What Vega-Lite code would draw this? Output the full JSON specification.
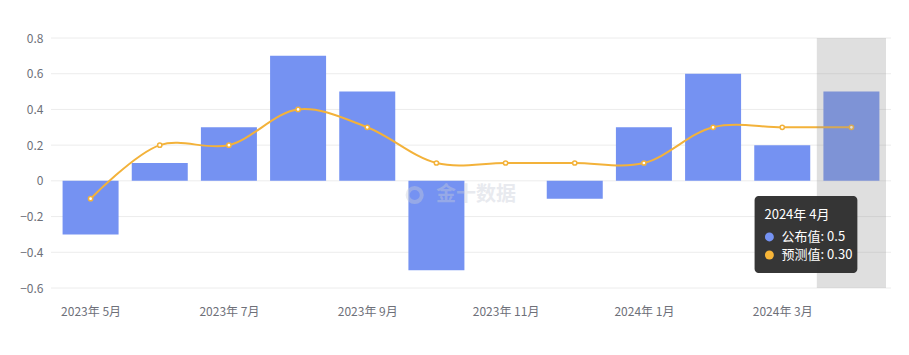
{
  "$schema": "https://vega.github.io/schema/vega-lite/v6.json",
  "width": 840,
  "height": 250,
  "autosize": "none",
  "padding": {"left": 51, "top": 38, "right": 18, "bottom": 67},
  "background": "white",
  "config": {
    "view": {"stroke": null},
    "font": "Noto Sans CJK SC",
    "axis": {"labelFont": "Noto Sans CJK SC", "labelFontSize": 12, "labelColor": "#6e7079", "title": null, "domain": false, "ticks": false, "labelOverlap": false}
  },
  "datasets": {
    "main": [
      {"idx": 1, "month": "2023年 5月", "actual": -0.3, "forecast": -0.1},
      {"idx": 2, "month": "2023年 6月", "actual": 0.1, "forecast": 0.2},
      {"idx": 3, "month": "2023年 7月", "actual": 0.3, "forecast": 0.2},
      {"idx": 4, "month": "2023年 8月", "actual": 0.7, "forecast": 0.4},
      {"idx": 5, "month": "2023年 9月", "actual": 0.5, "forecast": 0.3},
      {"idx": 6, "month": "2023年 10月", "actual": -0.5, "forecast": 0.1},
      {"idx": 7, "month": "2023年 11月", "actual": 0, "forecast": 0.1},
      {"idx": 8, "month": "2023年 12月", "actual": -0.1, "forecast": 0.1},
      {"idx": 9, "month": "2024年 1月", "actual": 0.3, "forecast": 0.1},
      {"idx": 10, "month": "2024年 2月", "actual": 0.6, "forecast": 0.3},
      {"idx": 11, "month": "2024年 3月", "actual": 0.2, "forecast": 0.3},
      {"idx": 12, "month": "2024年 4月", "actual": 0.5, "forecast": 0.3}
    ],
    "highlight": [{"x1": 11.5, "x2": 12.5, "y1": 0.8, "y2": -0.6}],
    "tipbox": [{"x1": 10.6, "x2": 12.086, "y1": -0.085, "y2": -0.516}],
    "tiptext": [
      {"x": 10.743, "y": -0.191, "text": "2024年 4月"},
      {"x": 10.99, "y": -0.314, "text": "公布值: 0.5"},
      {"x": 10.99, "y": -0.415, "text": "预测值: 0.30"}
    ],
    "tipdots": [
      {"x": 10.814, "y": -0.314, "series": "公布值"},
      {"x": 10.814, "y": -0.415, "series": "预测值"}
    ],
    "watermark": [{"x": 6.571, "y": -0.079, "text": "金十数据"}],
    "wmicon": [{"x": 5.686, "y": -0.079}],
    "grid": [{"v": -0.6}, {"v": -0.4}, {"v": -0.2}, {"v": 0}, {"v": 0.2}, {"v": 0.4}, {"v": 0.6}, {"v": 0.8}]
  },
  "layer": [
    {
      "data": {"name": "grid"},
      "mark": {"type": "rule", "color": "#ececec", "strokeWidth": 1},
      "encoding": {
        "y": {"field": "v", "type": "quantitative", "scale": {"domain": [-0.6, 0.8], "nice": false, "zero": false},
          "axis": {"values": [-0.6, -0.4, -0.2, 0, 0.2, 0.4, 0.6, 0.8], "tickCount": 20, "grid": false, "labelPadding": 8, "labelOverlap": false,
            "labelExpr": "datum.value == 0 ? '0' : format(datum.value, '.1f')"}}
      }
    },
    {
      "data": {"name": "main"},
      "mark": {"type": "rule", "opacity": 0},
      "encoding": {
        "x": {"field": "idx", "type": "quantitative", "scale": {"domain": [0.5, 12.5], "nice": false, "zero": false},
          "axis": {"values": [1, 3, 5, 7, 9, 11], "tickCount": 20, "grid": false, "labelPadding": 18, "labelOverlap": false,
            "labelExpr": "['2023年 5月','2023年 6月','2023年 7月','2023年 8月','2023年 9月','2023年 10月','2023年 11月','2023年 12月','2024年 1月','2024年 2月','2024年 3月','2024年 4月'][datum.value-1]"}},
        "y": {"field": "actual", "type": "quantitative"}
      }
    },
    {
      "data": {"name": "main"},
      "mark": {"type": "bar", "orient": "vertical", "width": 56, "color": "#7592f2"},
      "encoding": {"x": {"field": "idx", "type": "quantitative"}, "y": {"field": "actual", "type": "quantitative"}}
    },
    {
      "data": {"name": "watermark"},
      "mark": {"type": "text", "font": "Noto Sans CJK SC", "fontSize": 20, "fontWeight": "bold", "color": "#c8ccd8", "opacity": 0.4},
      "encoding": {"x": {"field": "x", "type": "quantitative"}, "y": {"field": "y", "type": "quantitative"}, "text": {"field": "text"}}
    },
    {
      "data": {"name": "wmicon"},
      "mark": {"type": "point", "shape": "circle", "size": 200, "strokeWidth": 4, "color": "#c8ccd8", "filled": false, "opacity": 0.4},
      "encoding": {"x": {"field": "x", "type": "quantitative"}, "y": {"field": "y", "type": "quantitative"}}
    },
    {
      "data": {"name": "main"},
      "mark": {"type": "line", "interpolate": "catmull-rom", "color": "#f3b23a", "strokeWidth": 2},
      "encoding": {"x": {"field": "idx", "type": "quantitative"}, "y": {"field": "forecast", "type": "quantitative"}}
    },
    {
      "data": {"name": "main"},
      "mark": {"type": "point", "shape": "circle", "size": 18, "filled": true, "fill": "white", "stroke": "#f3b23a", "strokeWidth": 1.5, "opacity": 1},
      "encoding": {"x": {"field": "idx", "type": "quantitative"}, "y": {"field": "forecast", "type": "quantitative"}}
    },
    {
      "data": {"name": "highlight"},
      "mark": {"type": "rect", "color": "#969696", "opacity": 0.3},
      "encoding": {"x": {"field": "x1", "type": "quantitative"}, "x2": {"field": "x2"}, "y": {"field": "y1", "type": "quantitative"}, "y2": {"field": "y2"}}
    },
    {
      "data": {"name": "tipbox"},
      "mark": {"type": "rect", "color": "#303030", "opacity": 0.97, "cornerRadius": 4},
      "encoding": {"x": {"field": "x1", "type": "quantitative"}, "x2": {"field": "x2"}, "y": {"field": "y1", "type": "quantitative"}, "y2": {"field": "y2"}}
    },
    {
      "data": {"name": "tipdots"},
      "mark": {"type": "point", "shape": "circle", "size": 80, "filled": true, "opacity": 1},
      "encoding": {"x": {"field": "x", "type": "quantitative"}, "y": {"field": "y", "type": "quantitative"},
        "color": {"field": "series", "type": "nominal", "scale": {"domain": ["公布值", "预测值"], "range": ["#7592f2", "#f7b538"]}, "legend": null}}
    },
    {
      "data": {"name": "tiptext"},
      "mark": {"type": "text", "align": "left", "baseline": "middle", "font": "Noto Sans CJK SC", "fontSize": 13, "color": "#ffffff"},
      "encoding": {"x": {"field": "x", "type": "quantitative"}, "y": {"field": "y", "type": "quantitative"}, "text": {"field": "text"}}
    }
  ]
}
